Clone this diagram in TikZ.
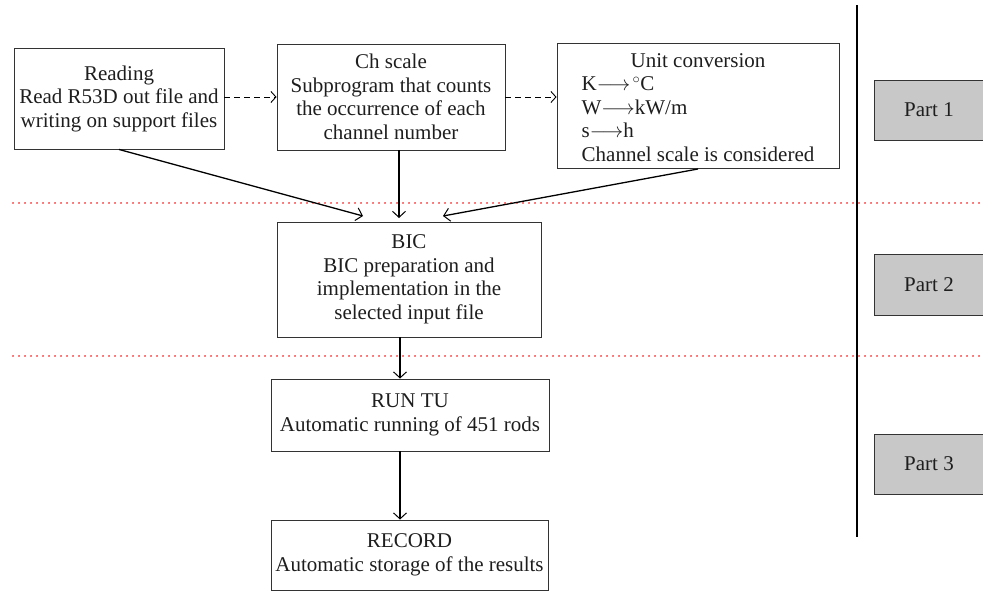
\documentclass[tikz,border=0pt]{standalone}
\usepackage{fontspec}
\setmainfont{Liberation Serif}
\usetikzlibrary{arrows.meta,calc}
\definecolor{boxline}{HTML}{333333}
\definecolor{txt}{HTML}{1E1E1E}
\definecolor{partfill}{HTML}{C8C8C8}
\definecolor{sepred}{HTML}{FF0000}
\begin{document}
\begin{tikzpicture}[x=1pt,y=-1pt,
  box/.style={draw=boxline, line width=0.9pt, inner sep=0pt, align=center, text=txt,
    font=\fontsize{21}{23.5}\selectfont},
  partbox/.style={draw=boxline, line width=0.9pt, fill=partfill, inner sep=0pt, text=txt,
    font=\fontsize{21}{23.5}\selectfont},
  flow/.style={line width=1.3pt, -{Straight Barb[length=6pt,width=13pt,line width=1pt]}},
  dasharrow/.style={line width=0.9pt, dash pattern=on 6pt off 4pt,
    -{Straight Barb[length=5pt,width=11pt,line width=0.9pt]}},
  sep/.style={sepred, line width=1.6pt, line cap=round, dash pattern=on 0.05pt off 5.95pt}
]
\useasboundingbox (0,0) rectangle (983,592);

% separators
\draw[sep] (13,203) -- (983,203);
\draw[sep] (13,356) -- (983,356);
\draw[line width=2pt] (857,5) -- (857,537);

% boxes
\node[box, minimum width=210pt, minimum height=101pt] (R) at (119,98.5)
  {Reading\\Read R53D out file and\\writing on support files};
\node[box, minimum width=228pt, minimum height=106pt] (C) at (391,97)
  {Ch scale\\Subprogram that counts\\the occurrence of each\\channel number};
\node[box, minimum width=282pt, minimum height=124pt] (U) at (698,106)
  {\begin{tabular}{@{}l@{}}\multicolumn{1}{c}{\rule{0pt}{24pt}Unit conversion}\\
   K$\longrightarrow\!{}^{\circ}$C\\
   W$\longrightarrow$kW/m\\
   s$\longrightarrow$h\\
   Channel scale is considered\end{tabular}};
\node[box, minimum width=264pt, minimum height=115pt] (B) at (409,279.5)
  {BIC\\BIC preparation and\\implementation in the\\selected input file};
\node[box, minimum width=278pt, minimum height=72pt] (T) at (410,415)
  {RUN TU\\Automatic running of 451 rods};
\node[box, minimum width=277pt, minimum height=70pt] (D) at (409.5,555)
  {RECORD\\Automatic storage of the results};

% part boxes
\node[partbox, minimum width=112pt, minimum height=60pt, anchor=west] (P1) at (874,110) {};
\node[partbox, minimum width=112pt, minimum height=61pt, anchor=west] (P2) at (874,284.5) {};
\node[partbox, minimum width=112pt, minimum height=60pt, anchor=west] (P3) at (874,464) {};
\node[text=txt, font=\fontsize{21}{23.5}\selectfont] (t1) at (929,110) {Part 1};
\node[text=txt, font=\fontsize{21}{23.5}\selectfont] (t2) at (929,284.5) {Part 2};
\node[text=txt, font=\fontsize{21}{23.5}\selectfont] (t3) at (929,464) {Part 3};

% helper coordinates
\coordinate (a1) at (363,216);
\coordinate (a2) at (399,218);
\coordinate (a3) at (443,216);
\coordinate (ax) at (400,0);

% connectors
\draw[dasharrow] (R.east |- C.west) -- (C.west);
\draw[dasharrow] (C.east) -- (C.east -| U.west);
\draw[flow] (R.south) -- (a1);
\draw[flow] (C.south -| a2) -- (a2);
\draw[flow] (U.south) -- (a3);
\draw[flow] (B.south -| ax) -- (T.north -| ax);
\draw[flow] (T.south -| ax) -- (D.north -| ax);
\end{tikzpicture}
\end{document}
